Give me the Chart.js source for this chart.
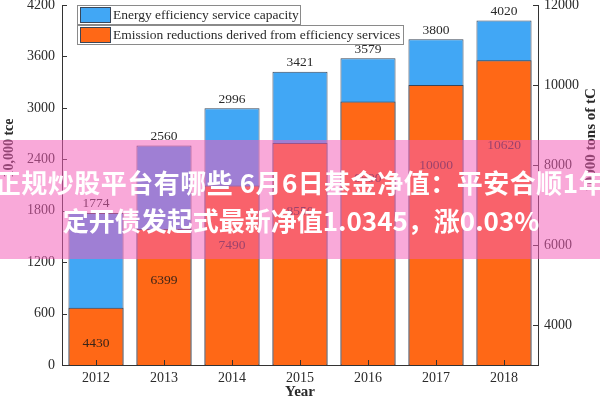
<!DOCTYPE html>
<html><head><meta charset="utf-8">
<script src="https://cdn.jsdelivr.net/npm/chart.js@4"></script>
<style>
html,body{margin:0;padding:0;background:#fff;overflow:hidden}
#wrap{position:relative;width:600px;height:400px}
#banner{position:absolute;left:0;top:140px;width:600px;height:119px;background:rgba(243,92,184,0.53);color:#fff;font-family:"Noto Sans CJK SC",sans-serif;font-weight:bold;font-size:26px;white-space:nowrap;overflow:hidden}
#banner div{position:absolute;left:-200px;width:1000px;text-align:center;line-height:28px;height:28px}
</style></head>
<body><div id="wrap"><canvas id="c" width="600" height="400"></canvas>
<div id="banner"><div style="top:28px;letter-spacing:0.5px">正规炒股平台有哪些 6月6日基金净值：平安合顺1年</div><div style="top:66px;left:-199px">定开债发起式最新净值1.0345，涨0.03%</div></div></div>
<script>
const years = ['2012','2013','2014','2015','2016','2017','2018'];
const capacity = [1774, 2560, 2996, 3421, 3579, 3800, 4020];
const reductions = [4430, 6399, 7490, 8550, 9590, 10000, 10620];
const leftTicks = [0, 600, 1200, 1800, 2400, 3000, 3600, 4200];
const rightTicks = [4000, 6000, 8000, 10000, 12000];
const seriesNames = ['Energy efficiency service capacity', 'Emission reductions derived from efficiency services'];
const leftTitle = '10,000 tce';
const rightTitle = '10000 tons of tC';
const xTitle = 'Year';

const BLUE = '#41a7f5', ORANGE = '#ff6816', EDGE = '#3a4658', INK = '#2a2a2a';
const SERIF = '"Liberation Serif", "Times New Roman", serif';

const deco = {
  id: 'deco',
  afterDatasetsDraw(chart) {
    const ctx = chart.ctx, ca = chart.chartArea;
    const x = chart.scales.x, y = chart.scales.y, y1 = chart.scales.y1;
    ctx.save();
    ctx.strokeStyle = '#333'; ctx.lineWidth = 1;
    ctx.beginPath();
    leftTicks.forEach(v => { const p = Math.round(y.getPixelForValue(v)) + 0.5; ctx.moveTo(ca.left, p); ctx.lineTo(ca.left + 5, p); });
    rightTicks.forEach(v => { const p = Math.round(y1.getPixelForValue(v)) + 0.5; ctx.moveTo(ca.right, p); ctx.lineTo(ca.right - 5, p); });
    years.forEach((c, i) => { const p = Math.round(x.getPixelForValue(i)) + 0.5; ctx.moveTo(p, ca.bottom); ctx.lineTo(p, ca.bottom - 5); });
    ctx.stroke();
    // value labels
    ctx.font = '13.5px ' + SERIF; ctx.fillStyle = INK; ctx.textAlign = 'center'; ctx.textBaseline = 'middle';
    capacity.forEach((v, i) => ctx.fillText(String(v), x.getPixelForValue(i), y.getPixelForValue(v) - 9));
    ctx.fillStyle = '#3a2418';
    reductions.forEach((v, i) => ctx.fillText(String(v), x.getPixelForValue(i), y1.getPixelForValue(v * 0.8)));
    // legend
    ctx.font = '13.5px ' + SERIF; ctx.textAlign = 'left';
    [[BLUE, 223, 5], [ORANGE, 326, 25]].forEach(([col, w, top], k) => {
      ctx.fillStyle = '#fff'; ctx.fillRect(77, top, w, 19);
      ctx.strokeStyle = '#8a8a8a'; ctx.strokeRect(77.5, top + 0.5, w, 19);
      ctx.fillStyle = col; ctx.fillRect(80, top + 2, 30, 15);
      ctx.strokeStyle = EDGE; ctx.strokeRect(80.5, top + 2.5, 30, 15);
      ctx.fillStyle = INK; ctx.fillText(seriesNames[k], 113, top + 10);
    });
    // axis titles
    ctx.font = 'bold 14px ' + SERIF; ctx.fillStyle = INK; ctx.textAlign = 'center';
    ctx.translate(9, 148); ctx.rotate(-Math.PI / 2); ctx.fillText(leftTitle, 0, 0);
    ctx.setTransform(1, 0, 0, 1, 0, 0);
    ctx.font = 'bold 15px ' + SERIF;
    ctx.translate(591, 140); ctx.rotate(-Math.PI / 2); ctx.fillText(rightTitle, 0, 0);
    ctx.restore();
  }
};

const plainNum = v => String(v);
const noPad = s => { s.paddingTop = 0; s.paddingBottom = 0; s.paddingLeft = 0; s.paddingRight = 0; };

new Chart(document.getElementById('c'), {
  type: 'bar',
  data: {
    labels: years,
    datasets: [
      { label: seriesNames[0], data: capacity, yAxisID: 'y', backgroundColor: BLUE, borderColor: EDGE, borderWidth: 1, borderSkipped: false, order: 2 },
      { label: seriesNames[1], data: reductions, yAxisID: 'y1', backgroundColor: ORANGE, borderColor: EDGE, borderWidth: 1, borderSkipped: false, order: 1 }
    ]
  },
  options: {
    responsive: false, animation: false, devicePixelRatio: 1,
    layout: { padding: { top: 5, left: 0, right: 0, bottom: 0 } },
    datasets: { bar: { grouped: false, barPercentage: 0.81, categoryPercentage: 1 } },
    plugins: { legend: { display: false }, tooltip: { enabled: false } },
    scales: {
      x: {
        offset: true,
        grid: { display: false, drawTicks: false },
        border: { display: true, color: '#333', width: 1 },
        ticks: { color: INK, font: { family: SERIF, size: 14 }, padding: 5, maxRotation: 0 },
        title: { display: true, text: xTitle, color: INK, font: { family: SERIF, size: 15, weight: 'bold', lineHeight: 1 }, padding: { top: 0, bottom: 0 } },
        afterFit(s) { s.height = 35; noPad(s); }
      },
      y: {
        position: 'left', min: 0, max: 4200,
        grid: { display: false, drawTicks: false },
        border: { display: true, color: '#333', width: 1 },
        ticks: { color: INK, font: { family: SERIF, size: 14 }, padding: 7, callback: plainNum },
        afterBuildTicks(s) { s.ticks = leftTicks.map(v => ({ value: v })); },
        afterFit(s) { s.width = 62; noPad(s); }
      },
      y1: {
        position: 'right', min: 3000, max: 12000,
        grid: { display: false, drawTicks: false },
        border: { display: true, color: '#333', width: 1 },
        ticks: { color: INK, font: { family: SERIF, size: 14 }, padding: 6, callback: plainNum },
        afterBuildTicks(s) { s.ticks = rightTicks.map(v => ({ value: v })); },
        afterFit(s) { s.width = 62; noPad(s); }
      }
    }
  },
  plugins: [deco]
});
</script></body></html>
